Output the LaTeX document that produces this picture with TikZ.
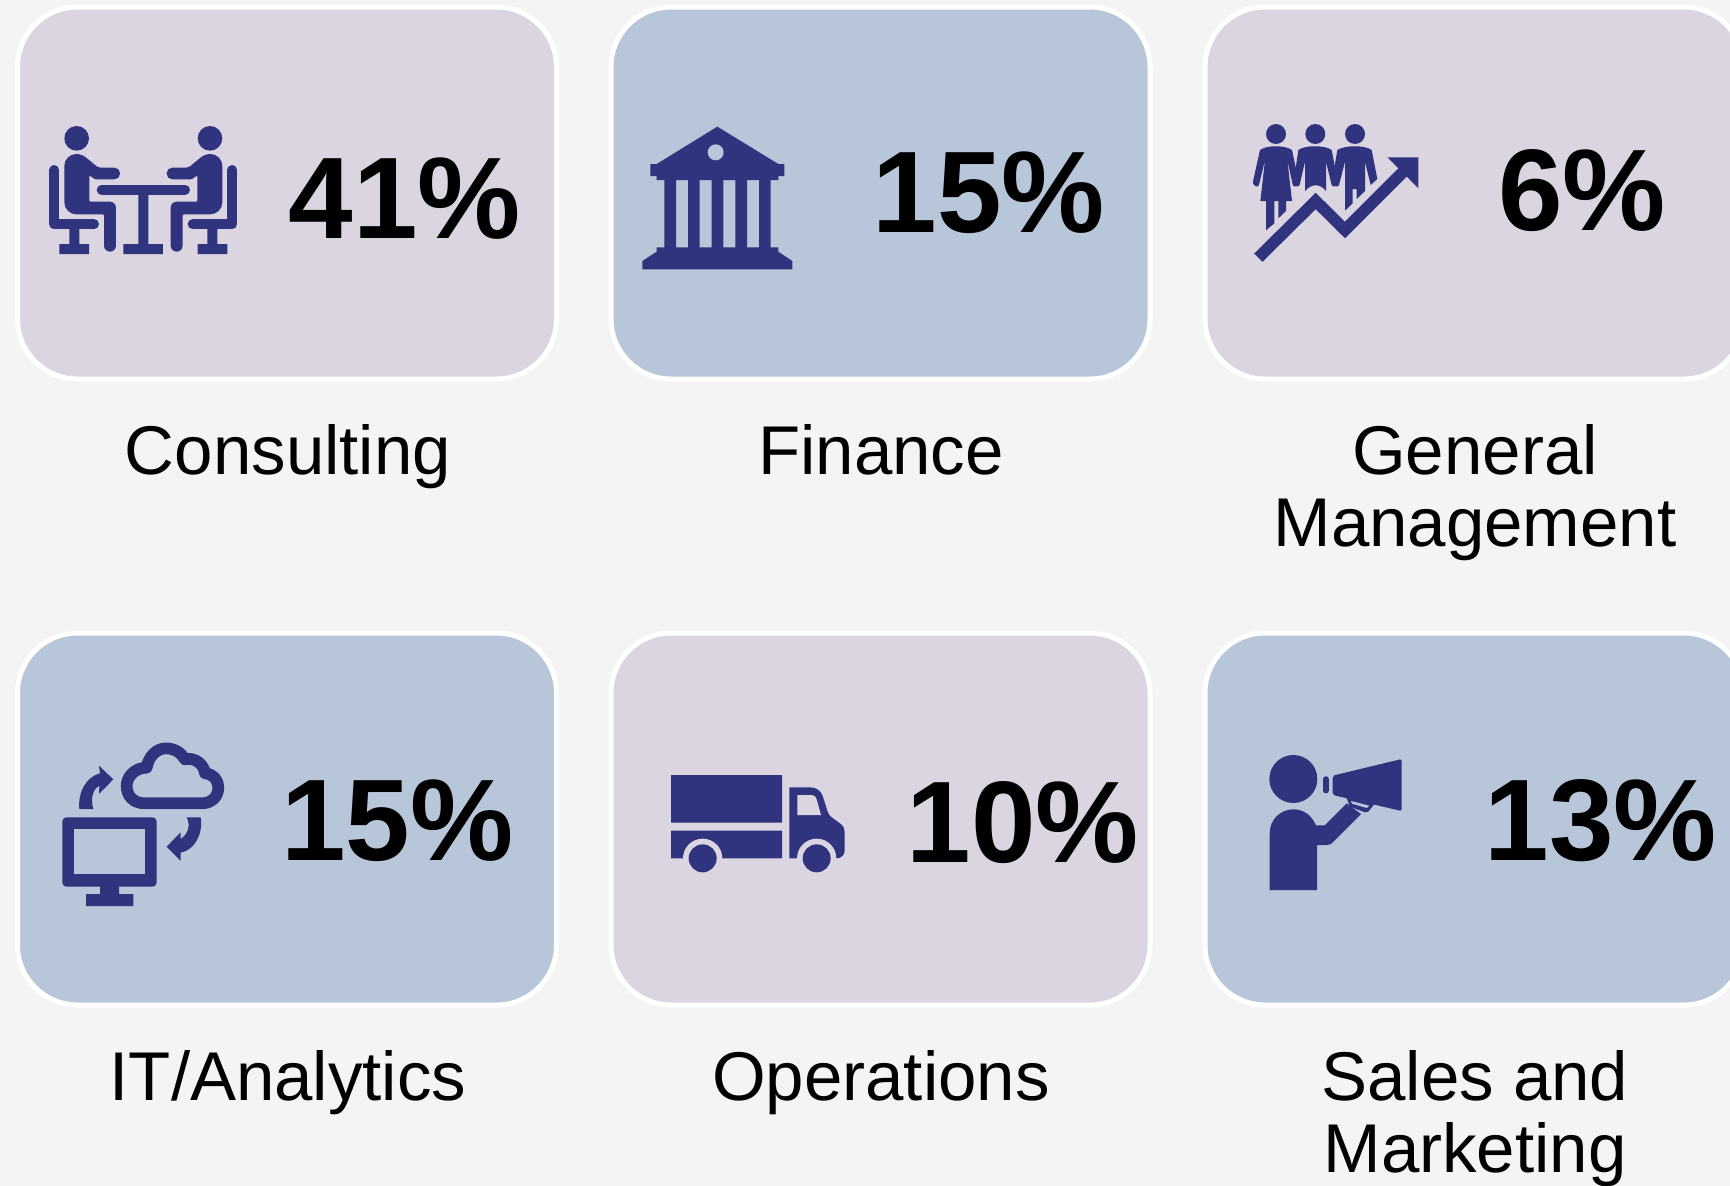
\documentclass[tikz,border=0pt]{standalone}
\usepackage{fontspec}
\setmainfont{Liberation Sans}
\definecolor{pagebg}{HTML}{F4F4F4}
\definecolor{mauve}{HTML}{DBD5E1}
\definecolor{steel}{HTML}{B7C6D9}
\definecolor{navy}{HTML}{30347F}
\tikzset{
  card/.style={draw=white,line width=5pt,rounded corners=60pt,minimum width=539pt,minimum height=372pt,inner sep=0pt,outer sep=0pt,anchor=north west},
  pct/.style={font=\bfseries\fontsize{116}{116}\selectfont,text=black,anchor=base,inner sep=0pt},
  lab/.style={font=\fontsize{69}{72}\selectfont,text=black,anchor=base,inner sep=0pt,align=center},
  icon/.style={shift={#1},x=0.33333pt,y=-0.33333pt},
}
\newcommand{\seated}{%
  \fill[navy] (140,115) circle (37);
  \fill[navy,rounded corners=12pt] (103,250) -- (103,162) [rounded corners=5pt] -- (155,162) [rounded corners=2pt] -- (205,203) [rounded corners=5.5pt] -- (270,203) -- (270,238) [rounded corners=1pt] -- (195,238) -- (178,226) -- (178,305) [rounded corners=6pt] -- (258,305) -- (258,455) -- (222,455) [rounded corners=1pt] -- (222,343) [rounded corners=12pt] -- (103,343) -- cycle;
  \draw[navy,line width=10pt,line cap=round,line join=round] (73,210) -- (73,373) -- (192,373);
  \fill[navy] (118,385) rectangle (148,435) (88,432) rectangle (177,462);
}
\begin{document}
\begin{tikzpicture}[x=1pt,y=-1pt]
\useasboundingbox (0,0) rectangle (1730,1186);
\clip (0,0) rectangle (1730,1186);
\fill[pagebg] (0,0) rectangle (1730,1186);
% cards
\node[card,fill=mauve] (c1) at (17.5,7) {};
\node[card,fill=steel] (c2) at (611,7) {};
\node[card,fill=mauve] (c3) at (1205,7) {};
\node[card,fill=steel] (c4) at (17.5,633) {};
\node[card,fill=mauve] (c5) at (611,633) {};
\node[card,fill=steel] (c6) at (1205,633) {};
% percentages
\node[pct] (p1) at (405,238.5) {41\%};
\node[pct] (p2) at (989,232) {15\%};
\node[pct] (p3) at (1582,230) {6\%};
\node[pct] (p4) at (397.5,860) {15\%};
\node[pct] (p5) at (1023,862) {10\%};
\node[pct] (p6) at (1601,860) {13\%};
% labels
\node[lab] (l1) at (288,474) {Consulting};
\node[lab] (l2) at (881,474) {Finance};
\node[lab] (l3) at (1475,546) {General\\Management};
\node[lab] (l4) at (288,1100) {IT/Analytics};
\node[lab] (l5) at (881,1100) {Operations};
\node[lab] (l6) at (1475,1172) {Sales and\\Marketing};
% icon 1
\begin{scope}[icon={(30,100)}]
  \seated
  \begin{scope}[shift={(680,0)},xscale=-1]
    \seated
  \end{scope}
  \draw[navy,line width=10pt,line cap=round] (215,269) -- (465,269);
  \fill[navy] (325,280) rectangle (355,435) (280,432) rectangle (399,462);
\end{scope}
% icon 2
\begin{scope}[icon={(620,110)}]
  \fill[navy] (292,50) -- (475,162) -- (493,162) -- (493,198) -- (475,198) -- (475,210) -- (110,210) -- (110,198) -- (91,198) -- (91,162) -- (110,162) -- cycle;
  \fill[steel] (287,127) circle (24);
  \fill[navy] (133,205) rectangle (168,415) (204,205) rectangle (239,415) (275,205) rectangle (310,415) (346,205) rectangle (381,415) (417,205) rectangle (452,415);
  \fill[navy] (110,412) -- (475,412) -- (475,425) -- (517,453) -- (517,478) -- (67,478) -- (67,453) -- (110,425) -- cycle;
\end{scope}
% icon 3
\begin{scope}[icon={(1230,105)}]
  \fill[navy] (138,87) circle (30) (256,87) circle (30) (375,87) circle (30);
  \fill[navy] (90,135) .. controls (110,120) and (165,120) .. (186,135) -- (208,238) [rounded corners=3pt] -- (190,248) [sharp corners] -- (172,165) -- (186,288) -- (168,288) -- (168,318) -- (145,340) -- (145,288) -- (133,288) -- (133,355) -- (108,376) -- (108,288) -- (91,288) -- (105,165) [rounded corners=3pt] -- (85,248) -- (67,238) [sharp corners] -- cycle;
  \fill[navy] (205,135) .. controls (225,120) and (285,120) .. (305,135) -- (325,238) [rounded corners=3pt] -- (307,248) [sharp corners] -- (288,170) -- (288,258) .. controls (270,235) and (245,235) .. (225,258) -- (225,170) [rounded corners=3pt] -- (207,248) -- (190,238) [sharp corners] -- cycle;
  \fill[navy] (322,135) .. controls (345,120) and (405,120) .. (425,135) -- (442,222) -- (422,240) -- (405,170) -- (405,258) -- (380,282) -- (380,252) -- (368,252) -- (368,295) -- (345,317) -- (345,170) [rounded corners=3pt] -- (325,248) -- (305,238) [sharp corners] -- cycle;
  \draw[navy,line width=11.7pt,miter limit=10] (85,458) -- (257,288) -- (345,375) -- (520,200);
  \fill[navy] (472,157) -- (565,157) -- (565,250) -- cycle;
\end{scope}
% icon 4
\begin{scope}[icon={(45,730)}]
  \fill[navy,rounded corners=4pt] (52,262) rectangle (335,470);
  \fill[steel] (87,297) rectangle (300,433);
  \fill[navy] (165,465) rectangle (222,495) (123,492) rectangle (265,528);
  \draw[navy,line width=11.7pt,line join=round] (300,220) .. controls (265,220) and (245,197) .. (245,168) .. controls (245,140) and (270,113) .. (305,113) .. controls (310,80) and (335,55) .. (362,55) .. controls (390,55) and (410,70) .. (420,88) .. controls (450,80) and (478,105) .. (480,130) .. controls (505,132) and (520,150) .. (520,172) .. controls (520,200) and (500,220) .. (470,220) -- cycle;
  \fill[navy] (103,237) .. controls (98,185) and (125,140) .. (165,130) -- (162,107) -- (205,148) -- (162,192) -- (163,168) .. controls (145,175) and (135,205) .. (145,237) -- cycle;
  \fill[navy] (425,262) .. controls (437,285) and (430,312) .. (407,327) -- (407,307) -- (365,350) -- (407,392) -- (407,368) .. controls (450,360) and (475,310) .. (467,262) -- cycle;
\end{scope}
% icon 5
\begin{scope}[icon={(655,760)}]
  \fill[navy] (48,45) rectangle (381,188) (48,212) rectangle (381,295);
  \fill[navy] (403,82) -- (465,82) .. controls (485,82) and (497,92) .. (503,108) -- (518,155) .. controls (522,168) and (530,172) .. (555,190) .. controls (565,198) and (569,205) .. (569,215) -- (569,272) .. controls (569,285) and (558,295) .. (545,295) -- (403,295) -- cycle;
  \fill[mauve] (427,105) -- (470,105) .. controls (478,105) and (483,110) .. (485,118) -- (498,165) -- (427,165) -- cycle;
  \fill[mauve] (143,295) circle (59) (485,295) circle (59);
  \fill[navy] (143,295) circle (42) (485,295) circle (42);
\end{scope}
% icon 6
\begin{scope}[icon={(1250,740)}]
  \fill[navy] (130,117) circle (72);
  \fill[navy] (59,450) -- (59,280) .. controls (59,240) and (90,208) .. (130,208) .. controls (160,208) and (185,225) .. (198,256) -- (224,256) -- (290,190) -- (333,222) -- (258,297) .. controls (250,306) and (243,315) .. (230,315) -- (201,315) -- (201,450) -- cycle;
  \fill[navy,rounded corners=2pt] (248,107) -- (455,57) -- (455,213) -- (248,165) -- cycle;
  \draw[navy,line width=5.5pt,line cap=round] (227.5,117) -- (227.5,152);
  \fill[navy] (288,170) -- (372,193) -- (355,215) -- (345,217) -- (300,200) -- cycle;
  \fill[steel] (303,183) -- (358,197) -- (350,204) -- (306,191) -- cycle;
\end{scope}
\end{tikzpicture}
\end{document}
